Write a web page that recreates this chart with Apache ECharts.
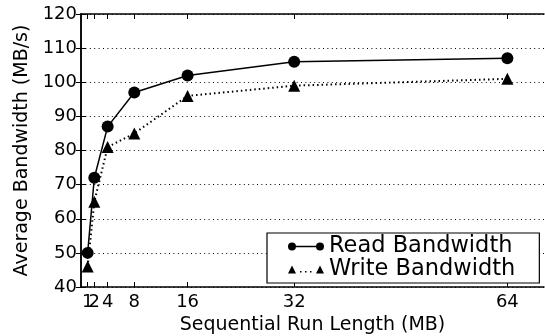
<!DOCTYPE html>
<html>
<head>
<meta charset="utf-8">
<script src="https://cdn.jsdelivr.net/npm/echarts@6/dist/echarts.min.js"></script>
<style>html,body{margin:0;padding:0;background:#fff}#c{width:545px;height:336px}</style>
</head>
<body>
<div id="c"></div>
<script>
const runLengths = [1, 2, 4, 8, 16, 32, 64];
const readBandwidth = [50, 72, 87, 97, 102, 106, 107];
const writeBandwidth = [46, 65, 81, 85, 96, 99, 101];
const xTicks = [1, 2, 4, 8, 16, 32, 64];
const yTicks = [40, 50, 60, 70, 80, 90, 100, 110, 120];

const FONT = 'DejaVu Sans';
const chart = echarts.init(document.getElementById('c'), null, {renderer: 'canvas'});

const readIcon = 'path://M0,4 A4,4 0 1,1 8,4 A4,4 0 1,1 0,4 Z M6,3.3 L30,3.3 L30,4.7 L6,4.7 Z M28,4 A4,4 0 1,1 36,4 A4,4 0 1,1 28,4 Z';
const writeIcon = 'path://M0,8 L4,0 L8,8 Z M12,5.5 L13.5,5.5 L13.5,7 L12,7 Z M17,5.5 L18.5,5.5 L18.5,7 L17,7 Z M22,5.5 L23.5,5.5 L23.5,7 L22,7 Z M28,8 L32,0 L36,8 Z';

const axisLine = {show: true, lineStyle: {color: '#000', width: 1.5}};
const tickLabelStyle = {fontFamily: FONT, fontSize: 18, color: '#000'};

chart.setOption({
  animation: false,
  backgroundColor: '#fff',
  grid: {left: 81, right: 1, top: 14, bottom: 49, containLabel: false, outerBoundsMode: 'none'},
  legend: {
    orient: 'vertical',
    left: 267, top: 233,
    padding: [2, 24, 2, 21],
    itemGap: 0,
    itemWidth: 36, itemHeight: 8,
    borderColor: '#000', borderWidth: 1.2,
    backgroundColor: '#fff',
    itemStyle: {borderWidth: 0},
    textStyle: {fontFamily: FONT, fontSize: 22.5, color: '#000', lineHeight: 22},
    data: [
      {name: 'Read Bandwidth', icon: readIcon},
      {name: 'Write Bandwidth', icon: writeIcon}
    ]
  },
  xAxis: [{
    type: 'value', min: 0, max: 69.5, position: 'bottom',
    name: 'Sequential Run Length (MB)', nameLocation: 'middle', nameGap: 29,
    nameTextStyle: {fontFamily: FONT, fontSize: 19, color: '#000'},
    axisLine: axisLine,
    axisTick: {show: true, inside: true, length: 5, customValues: xTicks, lineStyle: {color: '#000', width: 1}},
    axisLabel: Object.assign({show: true, customValues: xTicks.slice(1), hideOverlap: false, margin: 6}, tickLabelStyle),
    splitLine: {show: false}
  }, {
    type: 'value', min: 0, max: 69.5, position: 'top',
    axisLine: axisLine,
    axisTick: {show: true, inside: true, length: 5, customValues: xTicks, lineStyle: {color: '#000', width: 1}},
    axisLabel: {show: false},
    splitLine: {show: false}
  }, {
    type: 'value', min: 0, max: 69.5, position: 'bottom', offset: 0,
    axisLine: {show: false},
    axisTick: {show: false},
    axisLabel: Object.assign({show: true, customValues: xTicks.slice(0, 1), margin: 6}, tickLabelStyle),
    splitLine: {show: false}
  }],
  yAxis: [{
    type: 'value', min: 40, max: 120, interval: 10, position: 'left',
    name: 'Average Bandwidth (MB/s)', nameLocation: 'middle', nameGap: 43,
    nameTextStyle: {fontFamily: FONT, fontSize: 19, color: '#000'},
    axisLine: axisLine,
    axisTick: {show: true, inside: true, length: 5, lineStyle: {color: '#000', width: 1}},
    axisLabel: Object.assign({margin: 4}, tickLabelStyle),
    splitLine: {show: true, lineStyle: {color: '#000', width: 1, type: [1, 3.4]}}
  }, {
    type: 'value', min: 40, max: 120, interval: 10, position: 'right',
    axisLine: axisLine,
    axisTick: {show: true, inside: true, length: 5, lineStyle: {color: '#000', width: 1}},
    axisLabel: {show: false},
    splitLine: {show: false}
  }],
  series: [{
    name: 'Read Bandwidth', type: 'line',
    data: runLengths.map((x, i) => [x, readBandwidth[i]]),
    symbol: 'circle', symbolSize: 12,
    itemStyle: {color: '#000'},
    lineStyle: {color: '#000', width: 1.5},
    z: 3
  }, {
    name: 'Write Bandwidth', type: 'line',
    data: runLengths.map((x, i) => [x, writeBandwidth[i]]),
    symbol: 'triangle', symbolSize: 12,
    itemStyle: {color: '#000'},
    lineStyle: {color: '#000', width: 2, type: [1.5, 3]},
    z: 3
  }]
});
</script>
</body>
</html>
